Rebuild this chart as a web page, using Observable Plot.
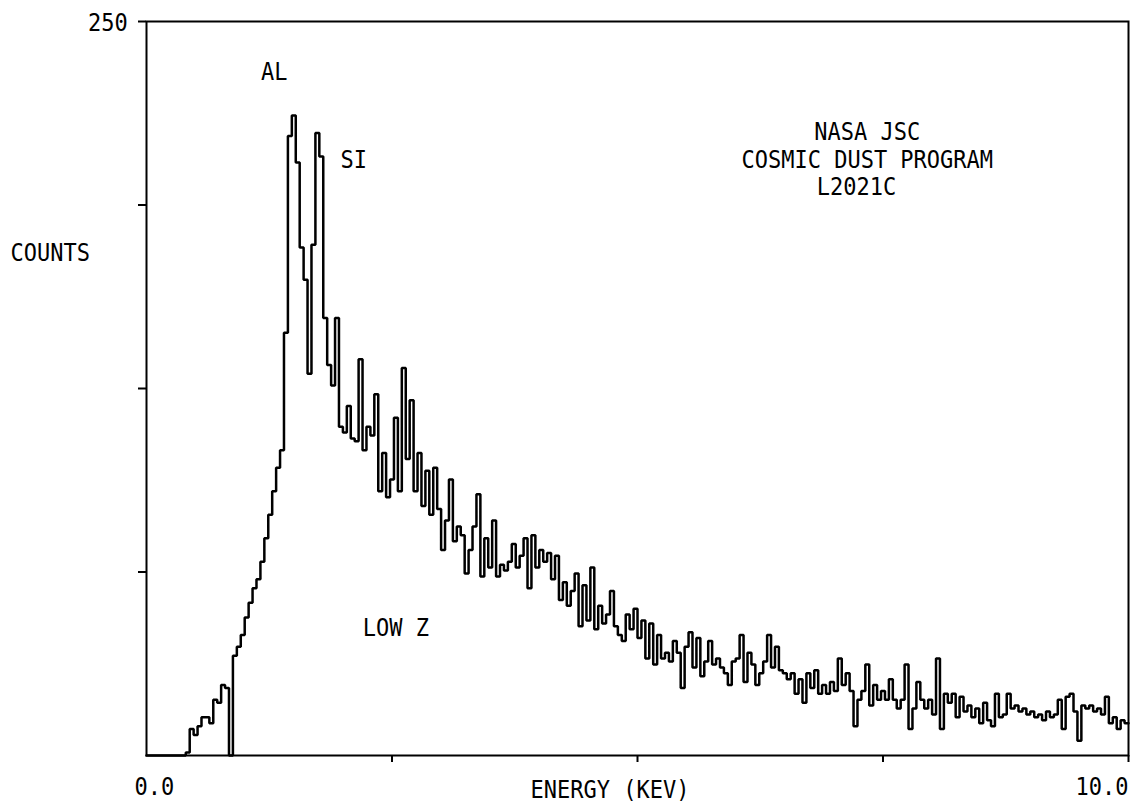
<!DOCTYPE html>
<html>
<head>
<meta charset="utf-8">
<script src="https://cdn.jsdelivr.net/npm/d3@7"></script>
<script src="https://cdn.jsdelivr.net/npm/@observablehq/plot@0.6"></script>
<style>
  html, body { margin: 0; padding: 0; background: #fff; }
  #chart svg { display: block; }
</style>
</head>
<body>
<div id="chart"></div>
<script>
// EDS spectrum, NASA JSC Cosmic Dust Program, particle L2021C
const channelWidthKeV = 0.04;   // energy width of one channel
const counts = [
  0, 0, 0, 0, 0, 0, 0, 0, 0, 0,
  1, 9, 7, 10, 13, 13, 11, 19, 18, 24,
  23, 0, 34, 37, 41, 47, 52, 57, 60, 66,
  74, 82, 90, 98, 104, 144, 211, 218, 202, 173,
  162, 130, 174, 212, 204, 149, 133, 126, 149, 112,
  110, 119, 108, 107, 135, 104, 112, 109, 123, 90,
  103, 88, 94, 115, 90, 132, 101, 121, 90, 103,
  85, 97, 82, 98, 84, 70, 80, 94, 73, 78,
  75, 62, 70, 78, 89, 61, 74, 64, 80, 61,
  65, 63, 66, 72, 64, 68, 74, 57, 75, 64,
  70, 66, 69, 60, 68, 53, 59, 51, 56, 62,
  44, 58, 46, 64, 43, 51, 45, 48, 56, 44,
  41, 39, 48, 43, 50, 40, 46, 33, 45, 31,
  41, 33, 35, 32, 39, 35, 23, 37, 42, 30,
  40, 27, 32, 39, 31, 33, 30, 28, 24, 32,
  33, 41, 25, 35, 31, 24, 28, 32, 41, 30,
  37, 29, 28, 26, 28, 21, 26, 18, 28, 23,
  29, 21, 24, 21, 25, 22, 33, 24, 28, 22,
  10, 19, 22, 31, 17, 24, 19, 22, 19, 26,
  19, 16, 19, 31, 9, 16, 25, 19, 16, 19,
  14, 33, 9, 21, 18, 21, 13, 20, 15, 17,
  13, 16, 11, 18, 12, 10, 21, 13, 14, 21,
  16, 17, 15, 16, 14, 15, 13, 14, 12, 15,
  13, 14, 19, 9, 20, 21, 15, 5, 17, 16,
  17, 15, 16, 14, 20, 11, 13, 9, 12, 11
];
const xDomain = [0, 10];
const yDomain = [0, 250];
const yTickValues = [62.5, 125, 187.5, 250];
const xTickValues = [2.5, 5, 7.5, 10];

// text annotations (positions in data units: keV, counts)
const labelsMiddle = [
  { text: "AL", x: 1.30, y: 232.8 },
  { text: "SI", x: 2.11, y: 203 },
  { text: "NASA JSC", x: 7.34, y: 212.5 },
  { text: "COSMIC DUST PROGRAM", x: 7.34, y: 203 },
  { text: "L2021C", x: 7.23, y: 193.6 },
  { text: "LOW Z", x: 2.54, y: 43.3 },
  { text: "0.0", x: 0.08, y: -10.6 },
  { text: "ENERGY (KEV)", x: 4.72, y: -11.9 }
];
const labelsStart = [
  { text: "COUNTS", x: -1.385, y: 171 }
];
const labelsEnd = [
  { text: "250", x: -0.19, y: 249.6 },
  { text: "10.0", x: 10.0, y: -10.6 }
];

const rows = counts.map((c, i) => ({ e: i * channelWidthKeV, c }));
rows.push({ e: xDomain[1], c: counts[counts.length - 1] });

const font = { fontFamily: "DejaVu Sans Mono", fontSize: 25, fill: "#000" };

const chart = Plot.plot({
  width: 1132,
  height: 806,
  marginLeft: 146,
  marginRight: 4,
  marginTop: 21,
  marginBottom: 51,
  x: { domain: xDomain },
  y: { domain: yDomain },
  style: { background: "#fff", color: "#000" },
  marks: [
    Plot.axisY({ ticks: yTickValues, tickSize: 8, tickFormat: () => "", strokeWidth: 2, label: null }),
    Plot.axisX({ ticks: xTickValues, tickSize: 7, tickFormat: () => "", strokeWidth: 2, label: null }),
    Plot.frame({ stroke: "#000", strokeWidth: 2 }),
    Plot.line(rows, { x: "e", y: "c", curve: "step-after", stroke: "#000", strokeWidth: 2.5, strokeLinejoin: "miter" }),
    Plot.text(labelsMiddle, { x: "x", y: "y", text: "text", textAnchor: "middle", ...font }),
    Plot.text(labelsStart, { x: "x", y: "y", text: "text", textAnchor: "start", ...font }),
    Plot.text(labelsEnd, { x: "x", y: "y", text: "text", textAnchor: "end", ...font })
  ]
});

// condense the lettering to resemble the narrow plotter font
chart.querySelectorAll('g[aria-label="text"] text').forEach(el => {
  const t = el.getAttribute("transform");
  if (t) {
    el.setAttribute("transform", t + " scale(0.88,1)");
  } else {
    const x = +el.getAttribute("x") || 0, y = +el.getAttribute("y") || 0;
    el.removeAttribute("x"); el.removeAttribute("y");
    el.setAttribute("transform", `translate(${x},${y}) scale(0.88,1)`);
  }
});

document.getElementById("chart").append(chart);
</script>
</body>
</html>
